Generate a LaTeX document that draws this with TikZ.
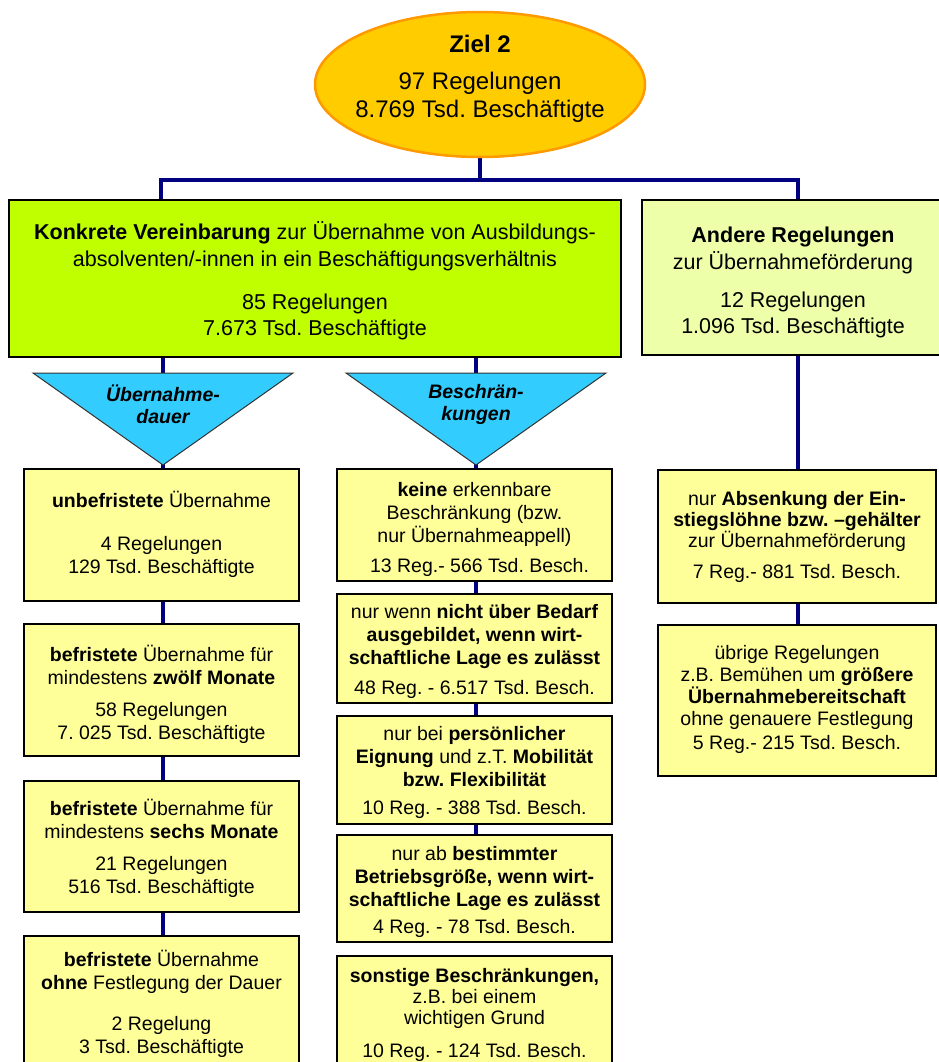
\documentclass[tikz,border=0pt]{standalone}
\usepackage{fontspec}
\setmainfont{Liberation Sans}
\usetikzlibrary{shapes.geometric,backgrounds}
\definecolor{navy}{HTML}{000080}
\definecolor{zgold}{HTML}{FFCC00}
\definecolor{zorange}{HTML}{FF9900}
\definecolor{zlime}{HTML}{C0FF00}
\definecolor{zpale}{HTML}{EEFFAA}
\definecolor{zyellow}{HTML}{FFFF99}
\definecolor{zcyan}{HTML}{33CCFF}
\frenchspacing
\begin{document}
\begin{tikzpicture}[x=1pt,y=-1pt,
  conn/.style={draw=navy,line width=4pt},
  bigbox/.style={draw=black,line width=2.5pt,inner sep=0pt},
  smallbox/.style={draw=black,line width=2pt,inner sep=0pt,fill=zyellow},
  txt/.style={align=center,inner sep=0pt,font=\fontsize{19.5}{23}\selectfont},
  bigtxt/.style={align=center,inner sep=0pt,font=\fontsize{21.5}{26.5}\selectfont},
  tritxt/.style={align=center,inner sep=0pt,font=\fontsize{19.5}{22}\selectfont\bfseries\itshape},
  tri/.style={draw=black!80,line width=1pt,fill=zcyan}]
\useasboundingbox (0,0) rectangle (938,1062);

% top ellipse
\node[ellipse,draw=zorange,line width=2.5pt,fill=zgold,minimum width=330pt,minimum height=145pt,inner sep=0pt] (ziel) at (480,84.5) {};
\node[align=center,inner sep=0pt,font=\fontsize{24}{28}\selectfont] (zieltxt) at (480,78.5) {\textbf{Ziel 2}\\[9pt]97 Regelungen\\8.769 Tsd. Beschäftigte};

% big boxes
\node[bigbox,fill=zlime,minimum width=612pt,minimum height=157pt] (green) at (315,278.5) {};
\node[bigtxt] (greentxt) at (315,281) {\textbf{Konkrete Vereinbarung} zur Übernahme von Ausbildungs-\\absolventen/-innen in ein Beschäftigungsverhältnis\\[16.5pt]85 Regelungen\\7.673 Tsd. Beschäftigte};
\node[bigbox,fill=zpale,minimum width=302pt,minimum height=155pt] (rbig) at (793,277.5) {};
\node[bigtxt] (rbigtxt) at (793,282.5) {\textbf{Andere Regelungen}\\zur Übernahmeförderung\\[11.5pt]12 Regelungen\\1.096 Tsd. Beschäftigte};

% junction coordinates
\coordinate (jl) at (161,180);
\coordinate (jr) at (798,180);
\coordinate (t1top) at (163,373);
\coordinate (t1apex) at (163,465);
\coordinate (t2top) at (476,373);
\coordinate (t2apex) at (476,465);

% triangles
\draw[tri] (33,373) -- (293,373) -- (t1apex) -- cycle;
\node[tritxt] (t1txt) at (163,404) {Übernahme-\\dauer};
\draw[tri] (346,373) -- (606,373) -- (t2apex) -- cycle;
\node[tritxt] (t2txt) at (476,404) {Beschrän-\\kungen};

% left column
\node[smallbox,minimum width=275pt,minimum height=132pt] (L1) at (161.5,535) {};
\node[txt] (L1t) at (161.5,534) {\textbf{unbefristete} Übernahme\\[20pt]4 Regelungen\\129 Tsd. Beschäftigte};
\node[smallbox,minimum width=275pt,minimum height=132pt] (L2) at (161.5,690) {};
\node[txt] (L2t) at (161.5,694) {\textbf{befristete} Übernahme für\\mindestens \textbf{zwölf Monate}\\[9pt]58 Regelungen\\7. 025 Tsd. Beschäftigte};
\node[smallbox,minimum width=275pt,minimum height=131pt] (L3) at (161.5,846.5) {};
\node[txt] (L3t) at (161.5,848) {\textbf{befristete} Übernahme für\\mindestens \textbf{sechs Monate}\\[9pt]21 Regelungen\\516 Tsd. Beschäftigte};
\node[smallbox,minimum width=275pt,minimum height=144pt] (L4) at (161.5,1008) {};
\node[txt] (L4t) at (161.5,1003.5) {\textbf{befristete} Übernahme\\\textbf{ohne} Festlegung der Dauer\\[18pt]2 Regelung\\3 Tsd. Beschäftigte};

% middle column
\node[smallbox,minimum width=275pt,minimum height=112pt] (M1) at (474.5,525) {};
\node[txt] (M1t) at (474.5,529) {\textbf{keine} erkennbare\\Beschränkung (bzw.\\nur Übernahmeappell)\\[7pt]\hspace*{10pt}13 Reg.- 566 Tsd. Besch.};
\node[smallbox,minimum width=275pt,minimum height=109pt] (M2) at (474.5,648.5) {};
\node[txt] (M2t) at (474.5,651) {nur wenn \textbf{nicht über Bedarf}\\\textbf{ausgebildet, wenn wirt-}\\\textbf{schaftliche Lage es zulässt}\\[7pt]48 Reg. - 6.517 Tsd. Besch.};
\node[smallbox,minimum width=275pt,minimum height=108pt] (M3) at (474.5,770) {};
\node[txt] (M3t) at (474.5,772) {nur bei \textbf{persönlicher}\\\textbf{Eignung} und z.T. \textbf{Mobilität}\\\textbf{bzw. Flexibilität}\\[5pt]10 Reg. - 388 Tsd. Besch.};
\node[smallbox,minimum width=275pt,minimum height=107pt] (M4) at (474.5,888.5) {};
\node[txt] (M4t) at (474.5,891.5) {nur ab \textbf{bestimmter}\\\textbf{Betriebsgröße, wenn wirt-}\\\textbf{schaftliche Lage es zulässt}\\[4pt]4 Reg. - 78 Tsd. Besch.};
\node[smallbox,minimum width=275pt,minimum height=124pt] (M5) at (474.5,1018) {};
\node[txt] (M5t) at (474.5,1014.5) {\textbf{sonstige Beschränkungen,}\\[-2pt]z.B. bei einem\\[-2pt]wichtigen Grund\\[10pt]10 Reg. - 124 Tsd. Besch.};

% right column
\node[smallbox,minimum width=278pt,minimum height=133pt] (R1) at (797,536.5) {};
\node[txt] (R1t) at (797,536.5) {nur \textbf{Absenkung der Ein-}\\[-2pt]\textbf{stiegslöhne bzw. –gehälter}\\[-2pt]zur Übernahmeförderung\\[8pt]7 Reg.- 881 Tsd. Besch.};
\node[smallbox,minimum width=278pt,minimum height=151pt] (R2) at (797,700.5) {};
\node[txt] (R2t) at (797,699.5) {übrige Regelungen\\[-1pt]z.B. Bemühen um \textbf{größere}\\[-1pt]\textbf{Übernahmebereitschaft}\\[-1pt]ohne genauere Festlegung\\[1pt]5 Reg.- 215 Tsd. Besch.};

% connectors
\begin{pgfonlayer}{background}
\draw[conn] (ziel.south) -- (ziel.south |- jl);
\draw[conn] (green.north -| jl) -- (jl) -- (jr) -- (rbig.north -| jr);
\draw[conn] (green.south -| t1top) -- (L1.north -| t1top);
\draw[conn] (L1.south -| t1top) -- (L2.north -| t1top);
\draw[conn] (L2.south -| t1top) -- (L3.north -| t1top);
\draw[conn] (L3.south -| t1top) -- (L4.north -| t1top);
\draw[conn] (green.south -| t2top) -- (M1.north -| t2top);
\draw[conn] (M1.south -| t2top) -- (M2.north -| t2top);
\draw[conn] (M2.south -| t2top) -- (M3.north -| t2top);
\draw[conn] (M3.south -| t2top) -- (M4.north -| t2top);
\draw[conn] (rbig.south -| jr) -- (R1.north -| jr);
\draw[conn] (R1.south -| jr) -- (R2.north -| jr);
\end{pgfonlayer}
\end{tikzpicture}
\end{document}
